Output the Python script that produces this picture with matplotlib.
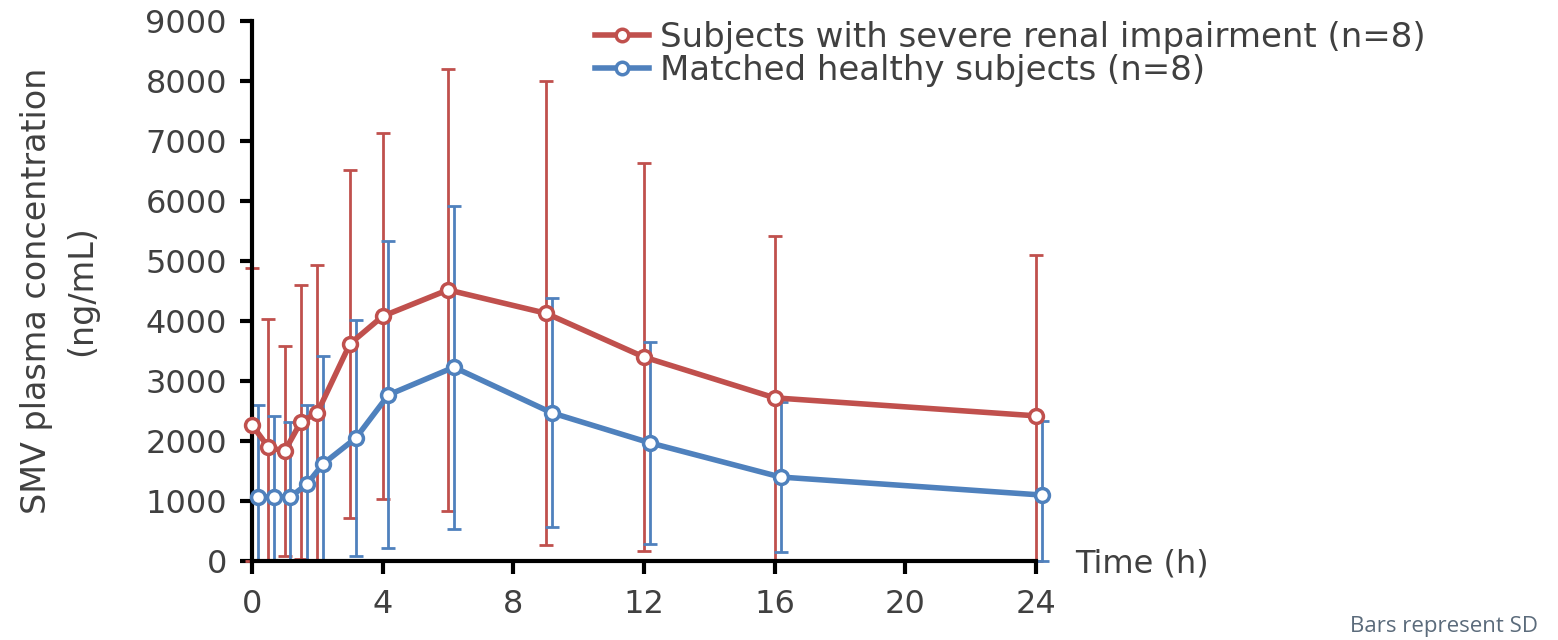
import numpy as np
import matplotlib
matplotlib.use("Agg")
import matplotlib.pyplot as plt

# time points (h)
time_h = [0, 0.5, 1, 1.5, 2, 3, 4, 6, 9, 12, 16, 24]

# mean SMV plasma concentration (ng/mL) and SD
renal_mean = [2270, 1900, 1830, 2320, 2470, 3620, 4080, 4520, 4130, 3400, 2720, 2420]
renal_sd = [2610, 2130, 1750, 2280, 2460, 2900, 3050, 3680, 3870, 3230, 2700, 2680]
healthy_mean = [1070, 1070, 1070, 1280, 1620, 2050, 2770, 3230, 2470, 1970, 1400, 1100]
healthy_sd = [1530, 1350, 1250, 1320, 1800, 1970, 2560, 2690, 1910, 1680, 1250, 1230]

y_ticks = [0, 1000, 2000, 3000, 4000, 5000, 6000, 7000, 8000, 9000]
x_ticks = [0, 4, 8, 12, 16, 20, 24]

RED = "#C0504D"
BLUE = "#4F81BD"
TEXT = "#404040"

plt.rcParams["font.family"] = ["DejaVu Sans"]

fig = plt.figure(figsize=(15.58, 6.4), dpi=100)
ax = fig.add_axes([0.1617, 0.1234, 0.5033, 0.8436])


def draw_series(x, mean, sd, color, label):
    mean = np.array(mean)
    sd = np.array(sd)
    lower = np.minimum(sd, mean)  # bars stop at zero
    ax.errorbar(x, mean, yerr=[lower, sd], fmt="none", ecolor=color,
                elinewidth=2.0, capsize=5, capthick=2.0, clip_on=False, zorder=2)
    ax.plot(x, mean, color=color, lw=4, marker="o", markersize=10,
            markerfacecolor="white", markeredgecolor=color, markeredgewidth=2.5,
            clip_on=False, zorder=3, label=label)


# healthy group is nudged right a little so the bars do not overlap
offset = 0.18
draw_series(time_h, renal_mean, renal_sd, RED,
            "Subjects with severe renal impairment (n=8)")
draw_series(np.array(time_h) + offset, healthy_mean, healthy_sd, BLUE,
            "Matched healthy subjects (n=8)")

ax.set_xlim(0, 24)
ax.set_ylim(0, 9000)
ax.set_xticks(x_ticks)
ax.set_yticks(y_ticks)
ax.tick_params(axis="both", direction="out", length=9, width=3, color="black",
               labelsize=23, labelcolor=TEXT)
ax.tick_params(axis="x", pad=11)
ax.tick_params(axis="y", pad=9)
for side in ["top", "right"]:
    ax.spines[side].set_visible(False)
for side in ["left", "bottom"]:
    ax.spines[side].set_linewidth(3)
    ax.spines[side].set_color("black")

ax.set_ylabel("SMV plasma concentration\n(ng/mL)", fontsize=24, color=TEXT,
              labelpad=34, linespacing=1.45)
ax.text(1.05, -0.005, "Time (h)", transform=ax.transAxes, fontsize=23,
        color=TEXT, va="center", ha="left")

leg = ax.legend(loc="upper left", bbox_to_anchor=(0.42, 1.025), frameon=False,
                fontsize=24.5, labelcolor=TEXT, handlelength=1.6,
                handletextpad=0.3, borderaxespad=0, labelspacing=0.0,
                markerscale=0.9)

fig.text(0.987, 0.005, "Bars represent SD", fontsize=16, color="#5b6b7b",
         ha="right", va="bottom", family=["Open Sans", "DejaVu Sans"])

fig.savefig("out.png", dpi=100)
